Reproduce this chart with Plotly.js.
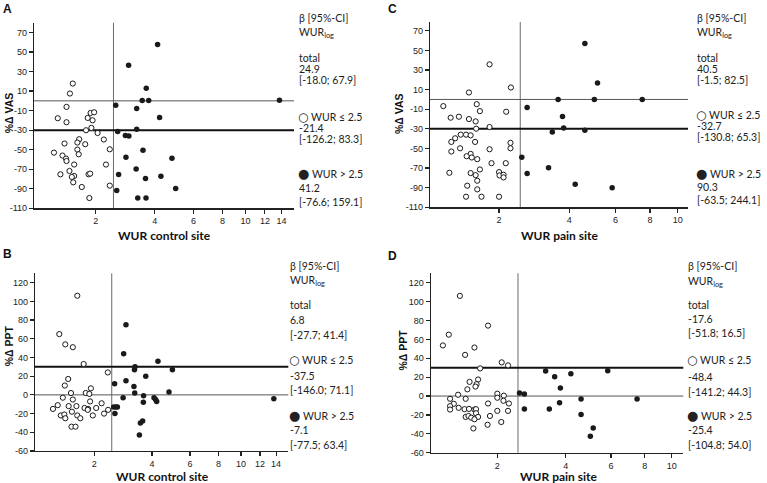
<!DOCTYPE html>
<html>
<head>
<meta charset="utf-8">
<script src="https://cdn.plot.ly/plotly-3.0.1.min.js"></script>
<style>
  html, body { margin: 0; padding: 0; background: #fff; }
  #figure { position: relative; width: 767px; height: 483px; }
  #figure > div { position: absolute; left: 0; top: 0; width: 767px; height: 483px; }
</style>
</head>
<body>
<div id="figure">
  <div id="panelA"></div>
  <div id="panelB"></div>
  <div id="panelC"></div>
  <div id="panelD"></div>
</div>
<script>
// WUR threshold separating the two subgroups
const wurCut = 2.5;

// A: WUR control site vs %Δ VAS
const aLowWur  = [1.46,1.40,1.33,1.16,1.33,1.87,1.96,1.80,1.92,1.89,1.76,2.05,1.60,1.56,1.29,1.74,2.22,1.56,1.59,2.39,1.09,1.25,1.32,1.33,1.49,2.28,1.39,1.21,1.49,1.44,1.47,1.82,1.86,1.66,2.39,1.84];
const aLowChg  = [17.7,7.5,-6.2,-17.8,-21.9,-12.4,-11.7,-17.5,-19.9,-27.7,-30.1,-32.9,-39.3,-42.7,-43.7,-44.4,-39.6,-49.9,-54.7,-49.6,-53,-56,-59.1,-61.6,-65.2,-65.2,-71.8,-75.2,-76.9,-77.9,-83.4,-75.2,-74.5,-88.2,-86.8,-99.5];
const aHighWur = [4.13,2.99,3.65,3.49,3.75,2.57,3.28,4.22,2.63,3.28,2.88,3.00,3.52,2.90,4.81,3.26,3.62,4.28,2.66,2.60,5.00,3.32,3.64,13.75];
const aHighChg = [57.7,36.5,12.9,0.3,0.3,-4.5,-7.9,-17.1,-31.4,-29.1,-35.5,-35.9,-50.6,-57.8,-58.8,-69.8,-79.6,-77.2,-75.5,-91.9,-89.8,-99.5,-99.5,0.6];

// B: WUR control site vs %Δ PPT
const bLowWur  = [1.58,1.20,1.32,1.48,1.73,2.38,1.38,1.31,1.44,1.91,1.78,1.87,1.27,1.48,1.89,2.20,1.17,1.39,1.56,1.08,1.75,1.84,1.83,2.05,2.39,1.46,1.23,1.30,1.32,1.58,1.65,1.96,2.27,1.45,1.54];
const bLowChg  = [106,65,54,51,33,24,17,10,2,7,2,1,-3,-5,-7,-9,-11,-12,-12,-15,-14,-15,-16,-14,-16,-18,-22,-21,-25,-22,-25,-22,-20,-34,-34];
const bHighWur = [2.97,2.89,4.27,3.30,3.28,4.99,3.73,2.97,2.59,3.26,3.29,4.81,2.87,3.64,4.09,4.16,4.21,3.63,2.56,2.63,2.68,2.60,3.51,3.60,3.47,13.7];
const bHighChg = [75,44,36,30,27,27,20,15,12,9,2,3,-3,-1,-3,-5,-7,-8,-13,-13,-13,-20,-30,-28,-43,-4];

// C: WUR pain site vs %Δ VAS
const cLowWur  = [1.80,2.27,1.41,1.00,1.55,1.61,2.16,1.11,1.24,1.41,1.53,1.80,1.54,1.18,1.27,1.36,1.44,1.12,1.52,2.26,2.26,1.26,1.12,1.80,1.84,2.15,1.44,1.46,1.37,1.56,1.09,1.44,1.53,1.61,2.00,2.01,2.10,2.10,1.56,1.38,1.56,1.36,1.64,2.00];
const cLowChg  = [35.8,12.2,7.1,-6.8,-4.8,-11.9,-12.5,-18.6,-17.6,-20,-22.4,-28.1,-29.8,-39.6,-35.9,-35.9,-36.6,-43.3,-43.3,-44.3,-49.8,-49.8,-53.1,-50.8,-65,-65,-55.5,-59.2,-57.9,-60.9,-74.8,-75.1,-77.2,-71.4,-74.1,-77.5,-76.8,-79.5,-82.9,-88,-91.7,-99.2,-99.2,-99.2];
const cHighWur = [2.68,3.61,3.76,3.80,3.42,2.54,3.30,2.68,4.22,4.60,5.14,5.00,7.50,4.60,5.83];
const cHighChg = [-8.1,0,-17.3,-29.1,-33.2,-58.9,-69.7,-75.5,-86.6,57.1,16.9,0,0,-31.5,-90];

// D: WUR pain site vs %Δ PPT
const dLowWur  = [1.27,1.09,1.00,1.80,1.53,1.36,2.10,2.25,1.64,1.44,1.60,1.57,1.55,1.40,1.24,1.11,1.37,2.00,2.00,2.15,2.14,2.27,1.17,1.11,1.11,1.25,1.80,1.35,1.43,1.53,1.56,1.56,2.00,2.25,1.37,1.42,1.47,1.60,1.53,1.84,2.09,1.79,1.51];
const dLowChg  = [106.1,65,53.6,74.6,51.4,43.6,35.7,32.5,29.3,15,17.5,12.5,10,7.1,1.4,-2.9,-2.9,2.5,-1.8,0.4,-5,-7.9,-8.2,-10.7,-14.3,-12.5,-7.9,-13.9,-13.6,-14.3,-13.9,-18.2,-15.7,-15.7,-22.1,-21.1,-22.9,-22.1,-24.6,-21.1,-27.5,-30.4,-34.3];
const dHighWur = [2.54,2.67,2.67,3.30,3.60,4.19,3.80,3.77,3.42,5.83,4.60,7.50,4.60,5.13,5.00];
const dHighChg = [3.2,2.1,-13.6,26.4,20.4,23.6,8.6,-7.1,-13.6,26.8,-3.2,-3.2,-19.6,-33.9,-42.5];

// tick labels
const ctrlTicks = [2, 4, 6, 8, 10, 12, 14];
const painTicks = [2, 4, 6, 8, 10];
const vasTicks  = [70, 50, 30, 10, -10, -30, -50, -70, -90, -110];
const pptTicks  = [120, 100, 80, 60, 40, 20, 0, -20, -40, -60];

// regression estimates: β [95%-CI] for WURlog
const estA = [["24.9", "[-18.0; 67.9]"], ["-21.4", "[-126.2; 83.3]"], ["41.2", "[-76.6; 159.1]"]];
const estB = [["6.8", "[-27.7; 41.4]"], ["-37.5", "[-146.0; 71.1]"], ["-7.1", "[-77.5; 63.4]"]];
const estC = [["40.5", "[-1.5; 82.5]"], ["-32.7", "[-130.8; 65.3]"], ["90.3", "[-63.5; 244.1]"]];
const estD = [["-17.6", "[-51.8; 16.5]"], ["-48.4", "[-141.2; 44.3]"], ["-25.4", "[-104.8; 54.0]"]];

const W = 767, H = 483;
const fx = p => p / W;
const fy = p => 1 - p / H;
// the WUR axis is drawn on a log10(WUR + 1) scale
const toScale = v => v.map(w => Math.log10(w + 1));

const INK = '#1a1a1a';
const tickFont = { family: 'Liberation Sans, Arial, sans-serif', size: 9, color: '#222' };
const textFont = { family: 'Lato, Carlito, sans-serif', size: 10.5, color: '#222' };
const letterFont = { family: 'Liberation Sans, Arial, sans-serif', size: 12, color: '#111' };
const xTitleFont = { family: 'Lato, Carlito, sans-serif', size: 12, color: '#111' };
const yTitleFont = { family: 'Liberation Sans, Arial, sans-serif', size: 10.5, color: '#111' };

const openSym = '<span style="font-family:DejaVu Sans;font-size:12px;font-weight:bold">○</span>';
const fullSym = '<span style="font-family:DejaVu Sans;font-size:13px">●</span>';

const panels = [
  { div: 'panelA', letter: 'A', low: [aLowWur, aLowChg], high: [aHighWur, aHighChg],
    xd: [34, 294], yd: [22.7, 208.3], xr: [0.245, 1.2235], yr: [-110, 80], xt: ctrlTicks, yt: vasTicks, thick: -30,
    letterPos: [3, 9], xTitle: ['WUR control site', 164.5, 235], yTitle: ['%Δ VAS', 9.3, 113],
    est: estA, statsX: 299, statsY: [18.3, 33.3, 58.3, 68.8, 80.3, 116.7, 127.6, 138.6, 173.3, 187.7, 202] },
  { div: 'panelB', letter: 'B', low: [bLowWur, bLowChg], high: [bHighWur, bHighChg],
    xd: [35, 288.3], yd: [273.3, 451], xr: [0.249, 1.223], yr: [-60, 130], xt: ctrlTicks, yt: pptTicks, thick: 30,
    letterPos: [3, 254], xTitle: ['WUR control site', 162.5, 476], yTitle: ['%Δ PPT', 9.3, 346],
    est: estB, statsX: 290, statsY: [266, 280.5, 305, 320, 335, 360, 376, 390, 415, 430, 445] },
  { div: 'panelC', letter: 'C', low: [cLowWur, cLowChg], high: [cHighWur, cHighChg],
    xd: [430, 688], yd: [22, 207.3], xr: [0.259, 1.074], yr: [-110, 79], xt: painTicks, yt: vasTicks, thick: -30,
    letterPos: [388, 9], xTitle: ['WUR pain site', 560, 235], yTitle: ['%Δ VAS', 399, 114],
    est: estC, statsX: 697, statsY: [18.3, 33.3, 58.3, 69.3, 80.3, 115.5, 126.5, 137.5, 173.3, 186.7, 200] },
  { div: 'panelD', letter: 'D', low: [dLowWur, dLowChg], high: [dHighWur, dHighChg],
    xd: [430.7, 683.3], yd: [273.3, 452.7], xr: [0.2616, 1.079], yr: [-60, 130], xt: painTicks, yt: pptTicks, thick: 30,
    letterPos: [388, 256], xTitle: ['WUR pain site', 559, 476.5], yTitle: ['%Δ PPT', 402.5, 350],
    est: estD, statsX: 688, statsY: [266, 281.5, 305, 318.5, 332.7, 360, 376.7, 391.7, 415, 430, 445] }
];

function drawPanel(p, index) {
  const annotations = [];
  const note = (text, x, y, font, extra) => annotations.push(Object.assign({
    text: text, xref: 'paper', yref: 'paper', x: fx(x), y: fy(y),
    xanchor: 'left', yanchor: 'middle', showarrow: false, font: font || textFont,
    bgcolor: 'rgba(0,0,0,0)', borderpad: 0, borderwidth: 0
  }, extra || {}));

  // β [95%-CI] block next to the scatter
  const x = p.statsX, ys = p.statsY, est = p.est;
  note('β [95%-CI]', x, ys[0]);
  note('WUR<sub>log</sub>', x, ys[1]);
  note('total', x, ys[2]);
  note(est[0][0], x, ys[3]);
  note(est[0][1], x, ys[4]);
  note(openSym + ' WUR ≤ 2.5', x - 1, ys[5]);
  note(est[1][0], x, ys[6]);
  note(est[1][1], x, ys[7]);
  note(fullSym + ' WUR > 2.5', x - 1, ys[8]);
  note(est[2][0], x, ys[9]);
  note(est[2][1], x, ys[10]);

  note('<b>' + p.letter + '</b>', p.letterPos[0], p.letterPos[1], letterFont);
  note('<b>' + p.xTitle[0] + '</b>', p.xTitle[1], p.xTitle[2], xTitleFont, { xanchor: 'center' });
  note('<b>' + p.yTitle[0] + '</b>', p.yTitle[1], p.yTitle[2], yTitleFont, { xanchor: 'center', textangle: -90 });

  const cut = Math.log10(wurCut + 1);
  const shapes = [
    // threshold line at WUR = 2.5
    { type: 'line', layer: 'below', xref: 'x', yref: 'y domain', x0: cut, x1: cut, y0: 0, y1: 1,
      line: { color: '#6b6b6b', width: 1 } },
    // no-change line
    { type: 'line', layer: 'below', xref: 'x domain', yref: 'y', x0: 0, x1: 1, y0: 0, y1: 0,
      line: { color: '#555', width: 1 } },
    // 30 % change line
    { type: 'line', layer: 'below', xref: 'x domain', yref: 'y', x0: 0, x1: 1, y0: p.thick, y1: p.thick,
      line: { color: '#111', width: 2 } }
  ];

  const common = {
    showline: true, linecolor: '#222', linewidth: 1.2,
    ticks: 'outside', ticklen: 4, tickcolor: '#222', tickwidth: 1.2,
    showgrid: false, zeroline: false, fixedrange: true,
    tickfont: tickFont, tickmode: 'array'
  };

  const traces = [
    { type: 'scatter', mode: 'markers', x: toScale(p.low[0]), y: p.low[1],
      marker: { symbol: 'circle', size: 5.2, color: '#fff', line: { color: INK, width: 1 } }, hoverinfo: 'skip' },
    { type: 'scatter', mode: 'markers', x: toScale(p.high[0]), y: p.high[1],
      marker: { symbol: 'circle', size: 5.5, color: INK }, hoverinfo: 'skip' }
  ];

  const layout = {
    width: W, height: H,
    margin: { l: 0, r: 0, t: 0, b: 0 },
    paper_bgcolor: index === 0 ? '#fff' : 'rgba(0,0,0,0)',
    plot_bgcolor: 'rgba(0,0,0,0)',
    showlegend: false,
    xaxis: Object.assign({ domain: [fx(p.xd[0]), fx(p.xd[1])], range: p.xr,
      tickvals: toScale(p.xt), ticktext: p.xt.map(String), tickangle: 0 }, common),
    yaxis: Object.assign({ domain: [fy(p.yd[1]), fy(p.yd[0])], range: p.yr,
      tickvals: p.yt, ticktext: p.yt.map(String) }, common),
    shapes: shapes,
    annotations: annotations
  };

  return Plotly.newPlot(p.div, traces, layout, { displayModeBar: false, staticPlot: true });
}

panels.forEach(drawPanel);
</script>
</body>
</html>
